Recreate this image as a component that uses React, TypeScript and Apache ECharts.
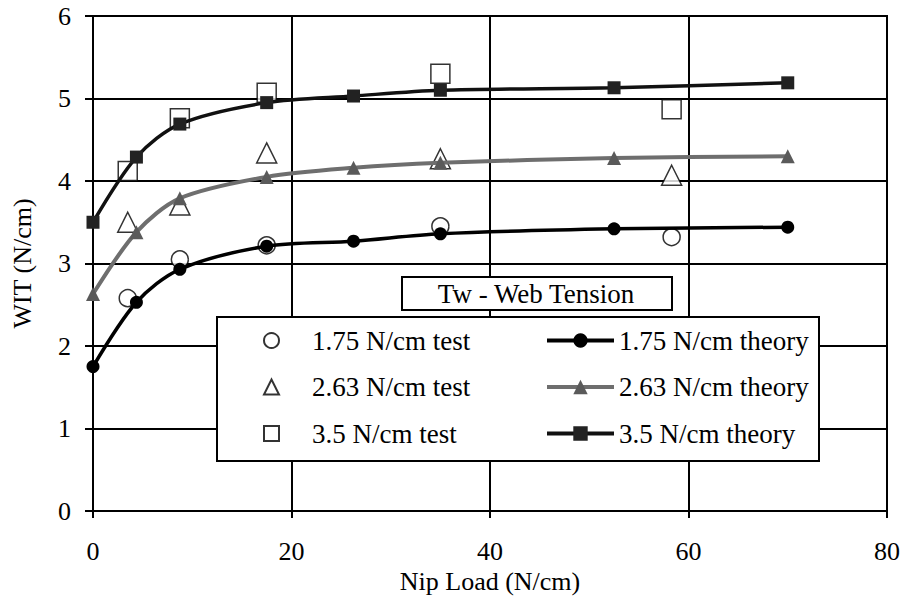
import React, { useEffect, useRef } from "react";
import * as echarts from "echarts";

const theoryX = [0, 4.375, 8.75, 17.5, 26.25, 35, 52.5, 70];
const theory175 = [1.75, 2.53, 2.93, 3.21, 3.27, 3.36, 3.42, 3.44];
const theory263 = [2.63, 3.38, 3.79, 4.05, 4.16, 4.22, 4.28, 4.3];
const theory350 = [3.5, 4.29, 4.69, 4.95, 5.03, 5.1, 5.13, 5.19];

const testX = [3.5, 8.75, 17.5, 35, 58.3];
const test175 = [2.58, 3.05, 3.22, 3.45, 3.32];
const test263 = [3.5, 3.71, 4.34, 4.27, 4.07];
const test350 = [4.12, 4.76, 5.07, 5.3, 4.87];

const xTicks = [0, 20, 40, 60, 80];
const yTicks = [0, 1, 2, 3, 4, 5, 6];

const testNames = ["1.75 N/cm test", "2.63 N/cm test", "3.5 N/cm test"];
const theoryNames = ["1.75 N/cm theory", "2.63 N/cm theory", "3.5 N/cm theory"];
const testSymbols = ["circle", "triangle", "rect"];

const FONT = "Liberation Serif";
const FS = 26;
const FS_LEG = 27;

const pairs = (xs: number[], ys: number[]) => xs.map((x, i) => [x, ys[i]]);

export default function App() {
  const ref = useRef<HTMLDivElement>(null);
  useEffect(() => {
    if (!ref.current) return;
    const chart = echarts.init(ref.current, undefined, { renderer: "svg" });
    const testStyle = { color: "#fff", borderColor: "#000", borderWidth: 1.5 };
    const txt = { fontFamily: FONT, fontSize: FS, color: "#000" };
    const legTxt = { fontFamily: FONT, fontSize: FS_LEG, color: "#000", lineHeight: 26 };
    chart.setOption({
      animation: false,
      backgroundColor: "#fff",
      textStyle: { fontFamily: FONT, color: "#000", fontSize: FS },
      grid: { left: 93, right: 17, top: 16, bottom: 89, show: true, borderColor: "#000", borderWidth: 2 },
      xAxis: {
        type: "value",
        min: xTicks[0],
        max: xTicks[xTicks.length - 1],
        interval: 20,
        name: "Nip Load (N/cm)",
        nameLocation: "middle",
        nameGap: 51,
        nameTextStyle: txt,
        axisLine: { lineStyle: { color: "#000", width: 2 } },
        axisTick: { show: true, length: 7, lineStyle: { color: "#000", width: 2 } },
        axisLabel: { ...txt, margin: 27 },
        splitLine: { show: true, lineStyle: { color: "#000", width: 2 } },
      },
      yAxis: {
        type: "value",
        min: yTicks[0],
        max: yTicks[yTicks.length - 1],
        interval: 1,
        name: "WIT (N/cm)",
        nameLocation: "middle",
        nameGap: 58,
        nameTextStyle: txt,
        axisLine: { lineStyle: { color: "#000", width: 2 } },
        axisTick: { show: true, length: 8, lineStyle: { color: "#000", width: 2 } },
        axisLabel: { ...txt, margin: 22 },
        splitLine: { show: true, lineStyle: { color: "#000", width: 2 } },
      },
      legend: [
        {
          orient: "vertical",
          left: 263,
          top: 327,
          padding: 0,
          z: 20,
          itemWidth: 15,
          itemHeight: 15,
          itemGap: 19.5,
          symbolKeepAspect: true,
          textStyle: { ...legTxt, padding: [0, 0, 0, 28] },
          data: testNames.map((n, i) => ({
            name: n,
            icon: testSymbols[i],
            itemStyle: { color: "#fff", borderColor: "#000", borderWidth: 2 },
          })),
        },
        {
          orient: "vertical",
          left: 545,
          top: 327,
          padding: 0,
          z: 20,
          itemWidth: 67,
          itemHeight: 18,
          itemGap: 19.5,
          textStyle: legTxt,
          lineStyle: { width: 4 },
          data: theoryNames,
        },
      ],
      graphic: [
        {
          type: "rect",
          z: 10,
          shape: { x: 402, y: 277, width: 270, height: 33 },
          style: { fill: "#fff", stroke: "#000", lineWidth: 2 },
        },
        {
          type: "text",
          z: 11,
          x: 536,
          y: 294,
          style: {
            text: "Tw - Web Tension",
            fontFamily: FONT,
            fontSize: FS_LEG,
            fill: "#000",
            align: "center",
            verticalAlign: "middle",
          },
        },
        {
          type: "rect",
          z: 10,
          shape: { x: 217, y: 317, width: 602, height: 144 },
          style: { fill: "#fff", stroke: "#000", lineWidth: 2 },
        },
      ],
      series: [
        {
          name: theoryNames[0],
          type: "line",
          smooth: 0.3,
          data: pairs(theoryX, theory175),
          symbol: "circle",
          symbolSize: 13,
          lineStyle: { color: "#000", width: 3.5 },
          itemStyle: { color: "#000" },
          z: 3,
        },
        {
          name: theoryNames[1],
          type: "line",
          smooth: 0.3,
          data: pairs(theoryX, theory263),
          symbol: "triangle",
          symbolSize: 14,
          lineStyle: { color: "#6e6e6e", width: 4 },
          itemStyle: { color: "#5a5a5a" },
          z: 3,
        },
        {
          name: theoryNames[2],
          type: "line",
          smooth: 0.3,
          data: pairs(theoryX, theory350),
          symbol: "rect",
          symbolSize: 13,
          lineStyle: { color: "#111", width: 3.5 },
          itemStyle: { color: "#222" },
          z: 3,
        },
        {
          name: testNames[0],
          type: "scatter",
          data: pairs(testX, test175),
          symbol: "circle",
          symbolSize: 17,
          itemStyle: testStyle,
          z: 2,
        },
        {
          name: testNames[1],
          type: "scatter",
          data: pairs(testX, test263),
          symbol: "triangle",
          symbolSize: 20,
          itemStyle: testStyle,
          z: 2,
        },
        {
          name: testNames[2],
          type: "scatter",
          data: pairs(testX, test350),
          symbol: "rect",
          symbolSize: 19,
          itemStyle: testStyle,
          z: 2,
        },
      ],
    });
    return () => chart.dispose();
  }, []);
  return (
    <div
      ref={ref}
      style={{ position: "fixed", left: 0, top: 0, width: 904, height: 600, background: "#fff" }}
    />
  );
}
